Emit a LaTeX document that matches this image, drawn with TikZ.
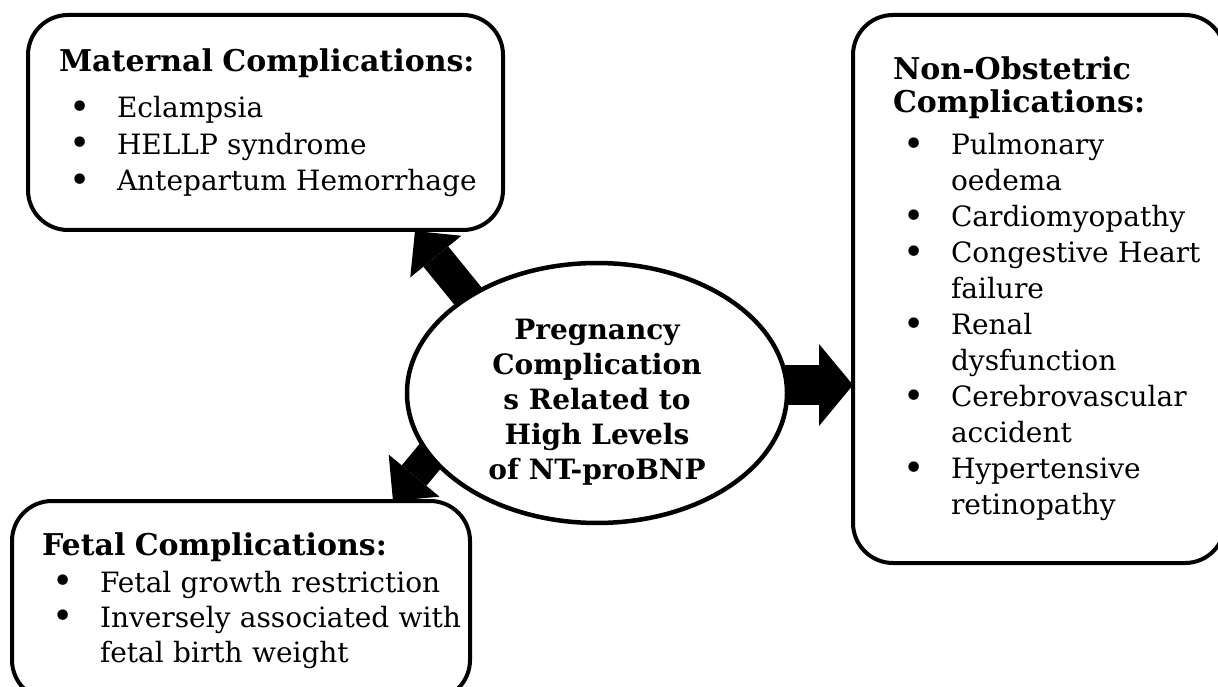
\documentclass[tikz,border=0pt]{standalone}
\usepackage{fontspec}
\setmainfont{DejaVu Serif}
\usetikzlibrary{arrows.meta,backgrounds,shapes.geometric}

\newcommand{\btitle}[1]{{\bfseries\fontsize{30}{33}\selectfont\mbox{#1}}}
\newcommand{\bdot}{\raisebox{-1.5pt}{\fontsize{36}{36}\selectfont\textbullet}}
\newcommand{\bitem}[1]{\mbox{\makebox[58pt][l]{\hspace{10pt}\bdot}#1}}
\newcommand{\bmore}[1]{\mbox{\hspace{58pt}#1}}

\begin{document}
\begin{tikzpicture}[x=1pt, y=-1pt,
    cbox/.style={draw, line width=4pt, rounded corners=40pt, fill=white, inner sep=0pt,
        align=left, font=\fontsize{28}{#1}\selectfont},
    cbox/.default=36.5,
    fatarrow/.style={line width=32pt, shorten <=-14pt,
        -{Triangle[length=33pt, width=66pt, line width=0pt]}}]
    \useasboundingbox (0,0) rectangle (1218,687);

    % centre
    \node[draw, ellipse, line width=4.5pt, fill=white, minimum width=380pt, minimum height=254pt,
        inner sep=0pt, align=center, font=\bfseries\fontsize{28}{35}\selectfont] (cen) at (597,393)
        {\rule{0pt}{38pt}Pregnancy\\Complication\\s Related to\\High Levels\\of NT-proBNP};

    % boxes
    \node[cbox, minimum width=475pt, minimum height=215pt, text width=413pt] (mat) at (265.5,122.5)
        {\btitle{Maternal Complications:}\\[10pt]
         \bitem{Eclampsia}\\
         \bitem{HELLP syndrome}\\
         \bitem{Antepartum Hemorrhage}};
    \node[cbox=36, minimum width=372pt, minimum height=548pt, text width=292pt] (non) at (1039,289)
        {\btitle{Non-Obstetric}\\[-3pt]
         \btitle{Complications:}\\[6pt]
         \bitem{Pulmonary}\\ \bmore{oedema}\\
         \bitem{Cardiomyopathy}\\
         \bitem{Congestive Heart}\\ \bmore{failure}\\
         \bitem{Renal}\\ \bmore{dysfunction}\\
         \bitem{Cerebrovascular}\\ \bmore{accident}\\
         \bitem{Hypertensive}\\ \bmore{retinopathy}};
    \node[cbox=35, minimum width=458pt, minimum height=199pt, text width=398pt] (fet) at (241,600.5)
        {\btitle{Fetal Complications:}\\[2pt]
         \bitem{Fetal growth restriction}\\
         \bitem{Inversely associated with}\\ \bmore{fetal birth weight}};

    \coordinate (mattip) at (415,231);
    \coordinate (fettip) at (393,501);
    \coordinate (nontip) at (853,385);

    % arrows
    \begin{scope}[on background layer]
        \draw[fatarrow] (cen.143) -- (mattip);
        \draw[fatarrow] (cen.201) -- (fettip);
        \draw[fatarrow, line width=40pt, -{Triangle[length=34pt, width=82pt, line width=0pt]}]
            (cen.east |- nontip) -- (nontip);
    \end{scope}
\end{tikzpicture}
\end{document}
